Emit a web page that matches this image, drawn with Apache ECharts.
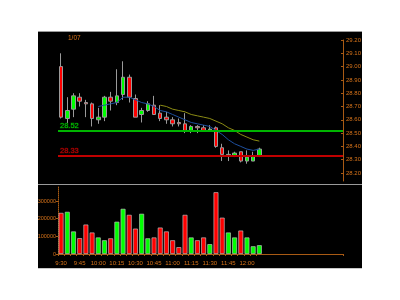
<!DOCTYPE html>
<html><head><meta charset="utf-8">
<script src="https://cdn.jsdelivr.net/npm/echarts@6/dist/echarts.min.js"></script>
<style>html,body{margin:0;padding:0;background:#fff}#c{width:400px;height:300px}</style>
</head><body><div id="c"></div>
<script>
const times = ['9:30','9:35','9:40','9:45','9:50','9:55','10:00','10:05','10:10','10:15','10:20','10:25','10:30','10:35','10:40','10:45','10:50','10:55','11:00','11:05','11:10','11:15','11:20','11:25','11:30','11:35','11:40','11:45','11:50','11:55','12:00','12:05','12:10'];
const emptySlots = 13;
const opens  = [29.00,28.61,28.68,28.77,28.73,28.72,28.60,28.62,28.77,28.73,28.79,28.92,28.76,28.64,28.67,28.71,28.65,28.62,28.60,28.58,28.57,28.52,28.55,28.54,28.52,28.54,28.39,28.33,28.33,28.36,28.29,28.29,28.33];
const closes = [28.62,28.67,28.78,28.74,28.72,28.61,28.62,28.77,28.74,28.78,28.92,28.77,28.62,28.67,28.72,28.64,28.61,28.60,28.57,28.57,28.52,28.55,28.54,28.52,28.53,28.40,28.34,28.34,28.35,28.29,28.32,28.33,28.38];
const lows   = [28.61,28.57,28.62,28.70,28.62,28.55,28.57,28.59,28.67,28.71,28.75,28.73,28.62,28.58,28.66,28.64,28.59,28.57,28.55,28.55,28.50,28.50,28.50,28.51,28.51,28.39,28.29,28.29,28.32,28.28,28.27,28.29,28.32];
const highs  = [29.10,28.77,28.80,28.80,28.75,28.73,28.69,28.78,28.81,28.98,29.04,28.94,28.79,28.69,28.74,28.78,28.71,28.66,28.62,28.61,28.65,28.56,28.56,28.56,28.56,28.55,28.42,28.37,28.36,28.36,28.37,28.36,28.39];
const volumes = [233000,239000,128000,90000,167000,122000,94000,78000,89000,183000,256000,222000,144000,228000,89000,94000,150000,128000,78000,39000,222000,94000,78000,94000,56000,350000,206000,122000,94000,133000,94000,44000,50000];
const maFast = [null,null,null,null,null,null,28.70,28.71,28.72,28.73,28.77,28.77,28.75,28.73,28.72,28.70,28.67,28.66,28.64,28.62,28.60,28.58,28.57,28.56,28.55,28.52,28.49,28.45,28.42,28.40,28.38,28.37,28.38];
const maSlow = [null,null,null,null,null,null,null,null,null,null,null,null,null,null,null,null,28.71,28.70,28.68,28.67,28.66,28.64,28.63,28.62,28.61,28.59,28.57,28.54,28.52,28.49,28.47,28.45,28.44];
const priceTicks = [28.20,28.30,28.40,28.50,28.60,28.70,28.80,28.90,29.00,29.10,29.20];
const volumeTicks = [0,100000,200000,300000];
const supportLevel = 28.33, resistLevel = 28.52, lastPrice = 28.38;
const dateLabel = '1/07';

const UP = '#00ff00', DOWN = '#ff0000', ORANGE = '#d8741a', AXIS = '#a85a14';
const FONT = "'Liberation Sans',Arial,sans-serif";
const cats = times.concat(Array(emptySlots).fill(''));
const candleData = opens.map((o,i)=>[o, closes[i], lows[i], highs[i]]);
const volData = volumes.map((v,i)=>({value:v, itemStyle:{color: closes[i] >= opens[i] ? UP : DOWN}}));

const chart = echarts.init(document.getElementById('c'), null, {renderer:'canvas'});
chart.setOption({
  backgroundColor:'#ffffff',
  animation:false,
  textStyle:{fontFamily:FONT},
  title:{text:dateLabel, left:63, top:30, textStyle:{color:ORANGE, fontSize:6.5, fontWeight:'normal', fontFamily:FONT}},
  graphic:[
    {type:'rect', z:-10, shape:{x:38,y:31,width:324,height:237}, style:{fill:'#000'}},
    {type:'line', z:-9, shape:{x1:38,y1:31.5,x2:362,y2:31.5}, style:{stroke:'#9a9a9a',lineWidth:1}},
    {type:'line', z:-9, shape:{x1:38,y1:184.5,x2:362,y2:184.5}, style:{stroke:'#9a9a9a',lineWidth:1}},
    {type:'line', z:-9, shape:{x1:38,y1:268.5,x2:362,y2:268.5}, style:{stroke:'#c8c8c8',lineWidth:1}}
  ],
  grid:[
    {left:58, right:57, top:40, height:141},
    {left:58, right:57, top:186, bottom:46}
  ],
  xAxis:[
    {type:'category', gridIndex:0, data:cats, axisLine:{show:false}, axisTick:{show:false}, axisLabel:{show:false}, splitLine:{show:false}},
    {type:'category', gridIndex:1, data:cats,
     axisLine:{lineStyle:{color:AXIS,width:1}},
     axisTick:{show:true, length:2, interval:(i,v)=>v!=='', lineStyle:{color:AXIS}},
     axisLabel:{color:ORANGE, fontSize:6, margin:6, fontFamily:FONT,
       interval:(i,v)=> v!=='' && i%3===0 && i<=30},
     splitLine:{show:false}}
  ],
  yAxis:[
    {type:'value', gridIndex:0, position:'right', min:28.14, max:29.2, scale:true,
     splitLine:{show:false},
     axisLine:{show:true, lineStyle:{color:AXIS,width:1}},
     axisTick:{show:true, inside:true, length:2, customValues:priceTicks, lineStyle:{color:AXIS}},
     axisLabel:{color:ORANGE, fontSize:6, margin:3, fontFamily:FONT, customValues:priceTicks, formatter:v=>v.toFixed(2)}},
    {type:'value', gridIndex:1, position:'left', min:0, max:385000,
     splitLine:{show:false},
     axisLine:{show:true, lineStyle:{color:AXIS,width:1,type:'dotted'}},
     axisTick:{show:true, length:2, customValues:volumeTicks, lineStyle:{color:AXIS}},
     axisLabel:{color:ORANGE, fontSize:5.5, margin:2, fontFamily:FONT, customValues:volumeTicks, formatter:v=>String(v)}}
  ],
  series:[
    {type:'candlestick', xAxisIndex:0, yAxisIndex:0, data:candleData, barWidth:4,
     itemStyle:{color:UP, color0:DOWN, borderColor:'#9a9a9a', borderColor0:'#9a9a9a', borderWidth:1},
     markLine:{silent:true, symbol:'none', animation:false,
       data:[
         {yAxis:resistLevel, lineStyle:{color:'#00b400', width:2, type:'solid'},
          label:{show:true, position:'insideStartTop', formatter:resistLevel.toFixed(2), color:'#00c800', fontSize:7.5, distance:[2,1], textBorderColor:'#004000', textBorderWidth:1, fontFamily:FONT}},
         {yAxis:supportLevel, lineStyle:{color:'#c00000', width:2, type:'solid'},
          label:{show:true, position:'insideStartTop', formatter:supportLevel.toFixed(2), color:'#c00000', fontSize:7.5, distance:[2,1], textBorderColor:'#400000', textBorderWidth:1, fontFamily:FONT}},
         {yAxis:lastPrice, lineStyle:{opacity:0},
          label:{show:true, position:'end', formatter:lastPrice.toFixed(2), color:'#dddddd', fontSize:6, distance:4, backgroundColor:'#1a1a1a', padding:[1,1], fontFamily:FONT}}
       ]}},
    {type:'line', xAxisIndex:0, yAxisIndex:0, data:maFast, showSymbol:false, symbol:'none', z:3,
     lineStyle:{color:'#1e4f9e', width:1}},
    {type:'line', xAxisIndex:0, yAxisIndex:0, data:maSlow, showSymbol:false, symbol:'none', z:3,
     lineStyle:{color:'#8c8c14', width:1}},
    {type:'bar', xAxisIndex:1, yAxisIndex:1, data:volData, barWidth:5,
     itemStyle:{borderColor:'rgba(200,200,200,0.8)', borderWidth:0.8}}
  ]
});
</script></body></html>
